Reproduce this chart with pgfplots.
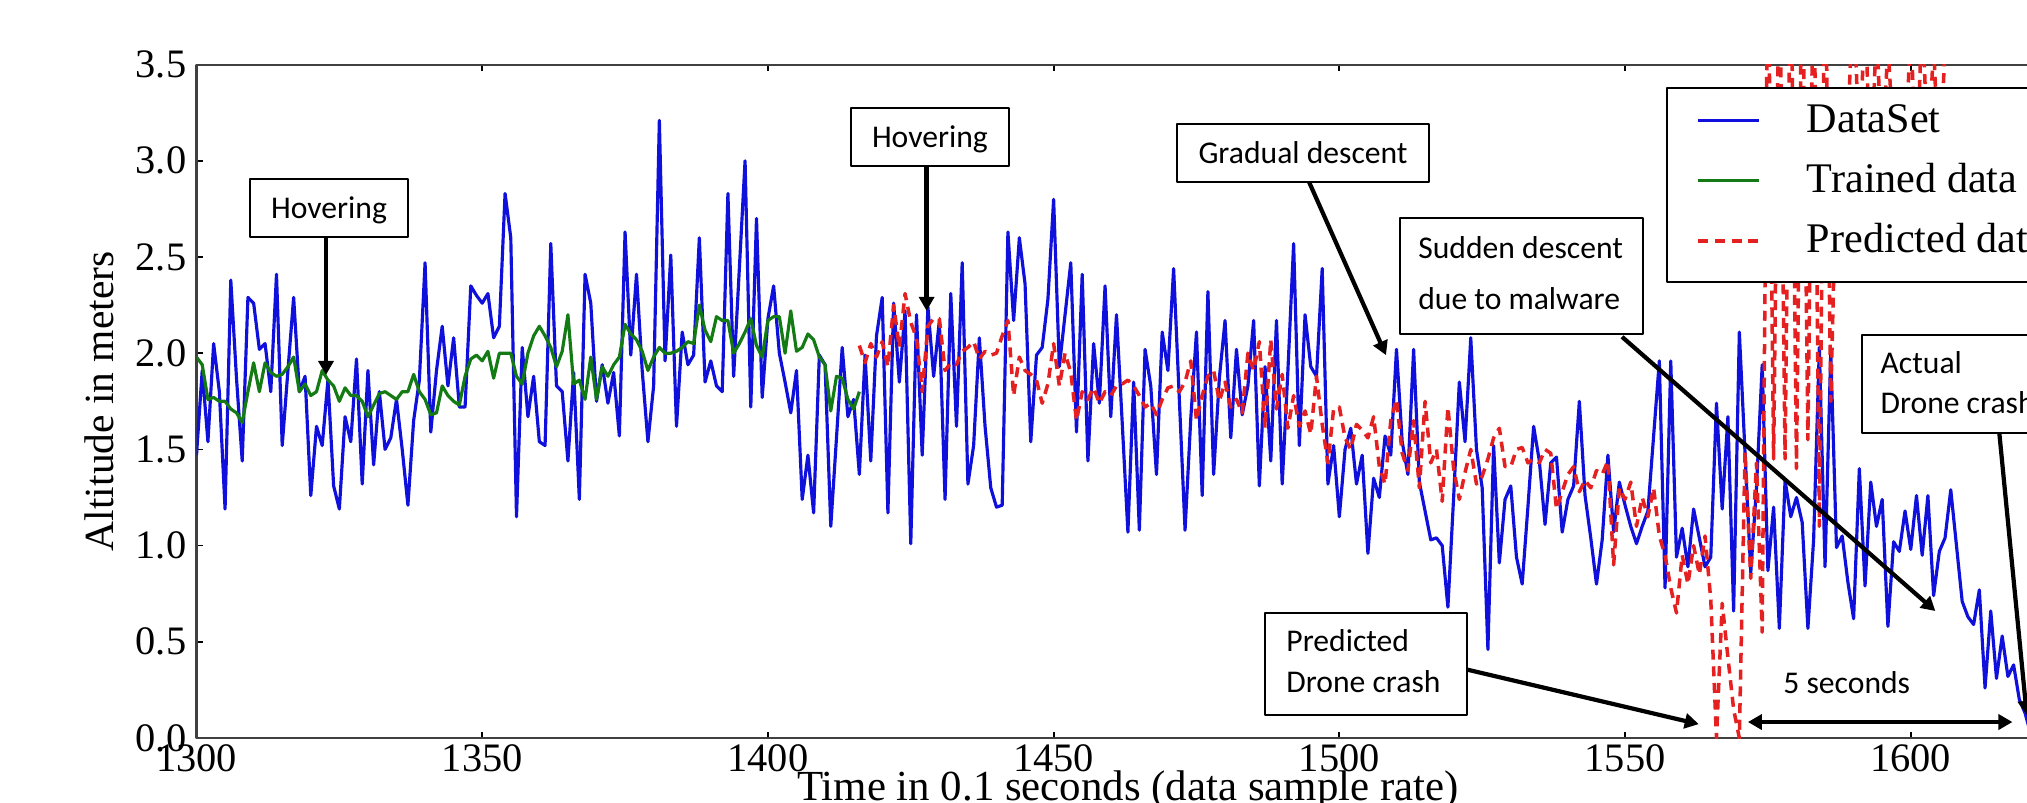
\documentclass[border=0pt]{standalone}
\usepackage{fontspec}
\setmainfont{Liberation Serif}
\newfontfamily\calibri{Carlito}
\usepackage{pgfplots}
\pgfplotsset{compat=1.18}
\usetikzlibrary{arrows.meta}

\definecolor{mplblue}{RGB}{16,16,220}
\definecolor{mplgreen}{RGB}{20,122,20}
\definecolor{mplred}{RGB}{228,32,32}

\newcommand{\anno}{\calibri\fontsize{9}{11}\selectfont}
\tikzset{
  box/.style={draw=black, line width=0.55pt, fill=white},
  arr/.style={-{Triangle[length=1.4mm,width=1.5mm]}, line width=1.2pt, black},
}

\pgfplotstableread{
t v
1300 1.47
1301 1.91
1302 1.54
1303 2.05
1304 1.80
1305 1.19
1306 2.38
1307 1.87
1308 1.44
1309 2.29
1310 2.26
1311 2.02
1312 2.05
1313 1.80
1314 2.41
1315 1.52
1316 1.91
1317 2.29
1318 1.80
1319 1.88
1320 1.26
1321 1.62
1322 1.52
1323 1.86
1324 1.31
1325 1.19
1326 1.67
1327 1.54
1328 1.97
1329 1.32
1330 1.91
1331 1.42
1332 1.80
1333 1.50
1334 1.56
1335 1.76
1336 1.50
1337 1.21
1338 1.65
1339 1.86
1340 2.47
1341 1.59
1342 1.91
1343 2.14
1344 1.83
1345 2.08
1346 1.72
1347 1.72
1348 2.35
1349 2.30
1350 2.26
1351 2.31
1352 2.08
1353 2.14
1354 2.83
1355 2.60
1356 1.15
1357 2.03
1358 1.67
1359 1.88
1360 1.54
1361 1.52
1362 2.57
1363 1.83
1364 1.80
1365 1.44
1366 1.90
1367 1.24
1368 2.41
1369 2.26
1370 1.75
1371 1.94
1372 1.74
1373 1.90
1374 1.57
1375 2.63
1376 1.99
1377 2.41
1378 1.91
1379 1.54
1380 1.83
1381 3.21
1382 1.96
1383 2.51
1384 1.62
1385 2.11
1386 1.94
1387 1.99
1388 2.60
1389 1.85
1390 1.96
1391 1.83
1392 1.80
1393 2.83
1394 1.88
1395 2.44
1396 3.00
1397 1.72
1398 2.70
1399 1.77
1400 2.18
1401 2.35
1402 2.00
1403 1.85
1404 1.69
1405 1.91
1406 1.24
1407 1.47
1408 1.17
1409 1.99
1410 1.94
1411 1.10
1412 1.56
1413 2.03
1414 1.67
1415 1.76
1416 1.37
1417 1.99
1418 1.44
1419 2.09
1420 2.29
1421 1.17
1422 2.26
1423 1.85
1424 2.22
1425 1.01
1426 2.20
1427 1.47
1428 2.24
1429 1.88
1430 2.17
1431 1.24
1432 2.31
1433 1.62
1434 2.47
1435 1.32
1436 1.52
1437 2.08
1438 1.62
1439 1.30
1440 1.20
1441 1.21
1442 2.63
1443 2.17
1444 2.60
1445 2.36
1446 1.54
1447 1.99
1448 2.03
1449 2.28
1450 2.80
1451 1.93
1452 2.20
1453 2.47
1454 1.59
1455 2.41
1456 1.44
1457 2.05
1458 1.74
1459 2.35
1460 1.67
1461 2.20
1462 1.64
1463 1.07
1464 1.85
1465 1.08
1466 2.02
1467 1.83
1468 1.37
1469 2.11
1470 1.91
1471 2.44
1472 1.76
1473 1.08
1474 1.66
1475 2.11
1476 1.26
1477 2.32
1478 1.37
1479 1.87
1480 2.17
1481 1.56
1482 2.02
1483 1.68
1484 1.83
1485 2.17
1486 1.31
1487 1.93
1488 1.44
1489 2.17
1490 1.32
1491 1.91
1492 2.57
1493 1.52
1494 2.20
1495 1.93
1496 1.88
1497 2.44
1498 1.32
1499 1.52
1500 1.15
1501 1.50
1502 1.61
1503 1.32
1504 1.47
1505 0.96
1506 1.35
1507 1.25
1508 1.57
1509 1.47
1510 2.02
1511 1.54
1512 1.37
1513 2.02
1514 1.33
1515 1.18
1516 1.03
1517 1.04
1518 1.00
1519 0.68
1520 1.25
1521 1.85
1522 1.54
1523 2.08
1524 1.50
1525 1.30
1526 0.46
1527 1.52
1528 0.91
1529 1.24
1530 1.31
1531 0.94
1532 0.80
1533 1.20
1534 1.62
1535 1.44
1536 1.11
1537 1.43
1538 1.46
1539 1.07
1540 1.24
1541 1.31
1542 1.75
1543 1.26
1544 1.04
1545 0.80
1546 1.03
1547 1.47
1548 1.07
1549 1.33
1550 1.21
1551 1.10
1552 1.01
1553 1.10
1554 1.18
1555 1.57
1556 1.96
1557 0.78
1558 1.96
1559 0.94
1560 1.09
1561 0.89
1562 1.19
1563 1.04
1564 0.89
1565 0.94
1566 1.74
1567 1.19
1568 1.67
1569 0.66
1570 2.11
1571 1.48
1572 0.86
1573 1.30
1574 1.94
1575 0.87
1576 1.20
1577 0.57
1578 1.34
1579 1.15
1580 1.25
1581 1.12
1582 0.57
1583 1.03
1584 2.03
1585 0.89
1586 2.01
1587 0.99
1588 1.05
1589 0.81
1590 0.62
1591 1.40
1592 0.79
1593 1.33
1594 1.10
1595 1.24
1596 0.58
1597 1.02
1598 0.97
1599 1.18
1600 0.98
1601 1.26
1602 0.95
1603 1.26
1604 0.74
1605 0.97
1606 1.04
1607 1.29
1608 1.00
1609 0.71
1610 0.63
1611 0.59
1612 0.77
1613 0.26
1614 0.66
1615 0.31
1616 0.53
1617 0.32
1618 0.38
1619 0.20
1620 0.13
1621 0.02
}\dataset

\pgfplotstableread{
t v
1300 1.98
1301 1.94
1302 1.76
1303 1.77
1304 1.75
1305 1.75
1306 1.71
1307 1.69
1308 1.64
1309 1.80
1310 1.95
1311 1.80
1312 1.95
1313 1.90
1314 1.88
1315 1.89
1316 1.93
1317 1.98
1318 1.80
1319 1.84
1320 1.78
1321 1.80
1322 1.91
1323 1.86
1324 1.83
1325 1.75
1326 1.82
1327 1.78
1328 1.78
1329 1.75
1330 1.67
1331 1.73
1332 1.79
1333 1.80
1334 1.78
1335 1.76
1336 1.80
1337 1.80
1338 1.89
1339 1.80
1340 1.76
1341 1.68
1342 1.69
1343 1.83
1344 1.78
1345 1.75
1346 1.73
1347 1.88
1348 1.97
1349 1.99
1350 1.96
1351 2.01
1352 1.87
1353 2.00
1354 2.00
1355 2.00
1356 1.88
1357 1.84
1358 2.00
1359 2.09
1360 2.14
1361 2.09
1362 2.03
1363 1.93
1364 2.01
1365 2.20
1366 1.84
1367 1.86
1368 1.76
1369 1.98
1370 1.76
1371 1.93
1372 1.88
1373 1.94
1374 1.98
1375 2.15
1376 2.10
1377 2.07
1378 2.01
1379 1.91
1380 1.98
1381 2.03
1382 2.00
1383 2.00
1384 2.01
1385 2.03
1386 2.06
1387 2.05
1388 2.25
1389 2.12
1390 2.06
1391 2.19
1392 2.17
1393 2.17
1394 2.00
1395 2.05
1396 2.11
1397 2.18
1398 2.04
1399 1.98
1400 2.17
1401 2.19
1402 2.19
1403 2.00
1404 2.22
1405 2.01
1406 2.03
1407 2.10
1408 2.07
1409 1.98
1410 1.94
1411 1.70
1412 1.88
1413 1.87
1414 1.76
1415 1.71
1416 1.80
}\trained

\pgfplotstableread{
t v
1416 2.04
1417 1.95
1418 2.05
1419 1.98
1420 2.06
1421 1.93
1422 2.25
1423 2.03
1424 2.31
1425 2.16
1426 2.08
1427 1.80
1428 2.14
1429 2.18
1430 2.18
1431 1.91
1432 1.95
1433 1.94
1434 2.01
1435 2.03
1436 2.06
1437 1.97
1438 2.01
1439 1.99
1440 2.00
1441 2.09
1442 2.17
1443 1.78
1444 1.98
1445 1.91
1446 1.89
1447 1.86
1448 1.74
1449 1.84
1450 2.05
1451 1.83
1452 2.00
1453 1.90
1454 1.65
1455 1.80
1456 1.76
1457 1.82
1458 1.74
1459 1.80
1460 1.78
1461 1.83
1462 1.84
1463 1.86
1464 1.83
1465 1.78
1466 1.72
1467 1.74
1468 1.68
1469 1.76
1470 1.82
1471 1.83
1472 1.80
1473 1.85
1474 1.96
1475 1.65
1476 1.78
1477 1.88
1478 1.91
1479 1.75
1480 1.85
1481 1.72
1482 1.76
1483 1.69
1484 2.00
1485 1.91
1486 2.06
1487 1.61
1488 2.07
1489 1.71
1490 1.89
1491 1.61
1492 1.78
1493 1.62
1494 1.70
1495 1.58
1496 1.88
1497 1.63
1498 1.43
1499 1.71
1500 1.72
1501 1.56
1502 1.50
1503 1.63
1504 1.60
1505 1.56
1506 1.67
1507 1.41
1508 1.32
1509 1.65
1510 1.76
1511 1.48
1512 1.39
1513 1.65
1514 1.30
1515 1.75
1516 1.43
1517 1.50
1518 1.23
1519 1.72
1520 1.40
1521 1.24
1522 1.38
1523 1.50
1524 1.32
1525 1.36
1526 1.45
1527 1.56
1528 1.61
1529 1.41
1530 1.41
1531 1.50
1532 1.51
1533 1.43
1534 1.45
1535 1.43
1536 1.50
1537 1.48
1538 1.19
1539 1.28
1540 1.37
1541 1.41
1542 1.28
1543 1.34
1544 1.30
1545 1.39
1546 1.37
1547 1.44
1548 0.90
1549 1.30
1550 1.24
1551 1.33
1552 1.10
1553 1.25
1554 1.15
1555 1.30
1556 1.05
1557 0.95
1558 0.78
1559 0.65
1560 0.95
1561 0.80
1562 1.00
1563 0.85
1564 1.05
1565 0.72
1566 0.00
1567 0.70
1568 0.42
1569 0.15
1570 0.00
1571 1.49
1572 0.83
1573 1.43
1574 0.55
1575 4.20
1576 1.45
1577 4.20
1578 1.45
1579 4.20
1580 1.40
1581 4.20
1582 1.55
1583 4.20
1584 1.10
1585 4.20
1586 1.75
1587 3.00
1588 2.80
1589 3.20
1590 3.90
1591 3.00
1592 3.80
1593 2.90
1594 3.70
1595 3.00
1596 3.60
1597 3.10
1598 3.20
1599 3.00
1600 3.70
1601 2.90
1602 3.80
1603 3.00
1604 3.60
1605 2.90
1606 3.60
}\predicted

\begin{document}
\begin{tikzpicture}
\useasboundingbox (-19.65mm,-6.4mm) rectangle (183.05mm,73.8mm);
\clip (-19.65mm,-6.4mm) rectangle (183.05mm,73.8mm);
\begin{axis}[
  scale only axis,
  width=186.28mm, height=67.34mm,
  xmin=1300, xmax=1626,
  ymin=0, ymax=3.5,
  xtick={1300,1350,...,1600},
  ytick={0,0.5,...,3.5},
  tick align=inside,
  major tick length=0.6mm,
  minor tick num=0,
  tick style={black, line width=0.5pt},
  axis line style={black!75, line width=0.6pt},
  /pgf/number format/assume math mode=true,
  /pgf/number format/1000 sep={},
  yticklabel style={/pgf/number format/fixed, /pgf/number format/precision=1,
    /pgf/number format/fixed zerofill, anchor=east, inner sep=0pt, xshift=-0.95mm},
  xticklabel style={anchor=north, inner sep=0pt, yshift=-0.6mm},
  ticklabel style={font=\fontsize{11.5}{13}\selectfont},
  xlabel={Time in 0.1 seconds (data sample rate)},
  ylabel={Altitude in meters},
  xlabel style={at={(axis description cs:0.5,-0.0935)}, anchor=base, inner sep=0pt,
    font=\fontsize{12.2}{14}\selectfont},
  ylabel style={at={(axis description cs:-0.0443,0.5)}, anchor=base, inner sep=0pt,
    font=\fontsize{11.8}{14}\selectfont},
  legend style={at={(axis cs:1557.3,3.378)}, anchor=north west,
    draw=none, fill=none,
    inner xsep=0pt, inner ysep=0.6mm,
    font=\fontsize{12}{14}\selectfont,
    nodes={inner sep=0pt, text height=3.8mm, text depth=2.2mm, anchor=base west},
    row sep=0pt, column sep=0pt},
  legend image code/.code={\path (0mm,0mm) (13.6mm,0mm);
    \draw[#1] (2.9mm,1.2mm) -- (9.0mm,1.2mm);},
  line join=round,
]
\addplot[mplblue, line width=0.9pt] table {\dataset};
\addlegendentry{DataSet}
\addplot[mplgreen, line width=0.9pt] table {\trained};
\addlegendentry{Trained data}
\addplot[mplred, line width=1pt, dash pattern=on 1mm off 0.67mm] table {\predicted};
\addlegendentry{Predicted data}

% legend frame (opaque, hides the predicted curve behind it)
\draw[draw=black, line width=0.6pt, fill=white] (axis cs:1557.3,2.370) rectangle (axis cs:1640,3.378);

% annotations
\draw[box] (axis cs:1309.36,2.604) rectangle (axis cs:1337.01,2.905);
\node[anchor=base, inner sep=0pt, font=\anno] at (axis cs:1323.2,2.701) {Hovering};
\draw[arr] (axis cs:1322.66,2.604) -- (axis cs:1322.66,1.887);

\draw[box] (axis cs:1414.52,2.973) rectangle (axis cs:1442.17,3.274);
\node[anchor=base, inner sep=0pt, font=\anno] at (axis cs:1428.35,3.070) {Hovering};
\draw[arr] (axis cs:1427.77,2.973) -- (axis cs:1427.77,2.22);

\draw[box] (axis cs:1471.60,2.890) rectangle (axis cs:1515.70,3.191);
\node[anchor=base, inner sep=0pt, font=\anno] at (axis cs:1493.65,2.986) {Gradual descent};
\draw[arr] (axis cs:1494.7,2.890) -- (axis cs:1508.17,1.99);

\draw[box] (axis cs:1510.62,2.098) rectangle (axis cs:1553.2,2.702);
\node[anchor=base west, inner sep=0pt, font=\anno] at (axis cs:1513.7,2.490) {Sudden descent};
\node[anchor=base west, inner sep=0pt, font=\anno] at (axis cs:1513.7,2.226) {due to malware};
\draw[arr] (axis cs:1549.47,2.085) -- (axis cs:1604.3,0.66);

\draw[box] (axis cs:1487.0,0.120) rectangle (axis cs:1522.3,0.650);
\node[anchor=base west, inner sep=0pt, font=\anno] at (axis cs:1490.62,0.452) {Predicted};
\node[anchor=base west, inner sep=0pt, font=\anno] at (axis cs:1490.62,0.239) {Drone crash};
\draw[arr] (axis cs:1522.3,0.356) -- (axis cs:1562.9,0.072);

\node[anchor=base, inner sep=0pt, font=\anno] at (axis cs:1588.8,0.229) {5 seconds};
\draw[{Triangle[length=1.4mm,width=1.5mm]}-{Triangle[length=1.4mm,width=1.5mm]}, line width=1.2pt]
  (axis cs:1571.5,0.083) -- (axis cs:1617.8,0.083);

\draw[box] (axis cs:1591.46,1.585) rectangle (axis cs:1625.06,2.096);
\node[anchor=base west, inner sep=0pt, font=\anno] at (axis cs:1594.6,1.897) {Actual};
\node[anchor=base west, inner sep=0pt, font=\anno] at (axis cs:1594.6,1.689) {Drone crash};
\draw[arr] (axis cs:1615.5,1.585) -- (axis cs:1620.3,0.12);
\end{axis}
\end{tikzpicture}
\end{document}
